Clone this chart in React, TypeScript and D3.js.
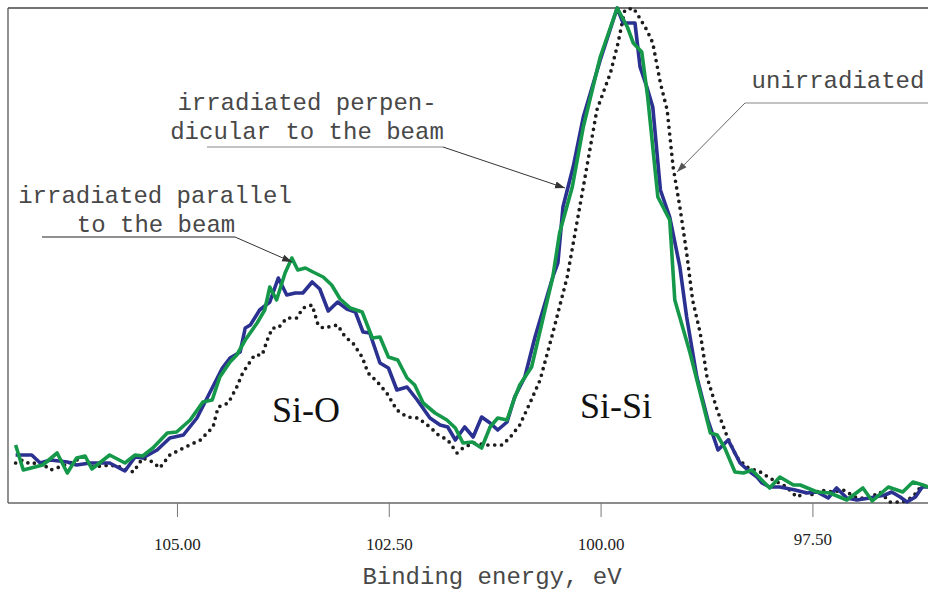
import React from "react";
import * as d3 from "d3";

// Binding energy axis ticks
const tickValues = [105, 102.5, 100, 97.5];
const tickLabels = ["105.00", "102.50", "100.00", "97.50"];

// Irradiated parallel to the beam (green)
const parallelE = [106.91, 106.82, 106.59, 106.42, 106.30, 106.19, 106.09, 106.01, 105.80, 105.62, 105.50, 105.41, 105.29, 105.12, 105.01, 104.85, 104.70, 104.59, 104.50, 104.38, 104.30, 104.20, 104.06, 103.97, 103.91, 103.83, 103.73, 103.65, 103.58, 103.49, 103.40, 103.28, 103.18, 103.08, 102.96, 102.82, 102.70, 102.61, 102.51, 102.40, 102.29, 102.20, 102.10, 101.96, 101.82, 101.72, 101.63, 101.52, 101.41, 101.31, 101.22, 101.11, 101.03, 100.96, 100.82, 100.69, 100.57, 100.49, 100.34, 100.21, 100.01, 99.81, 99.69, 99.62, 99.52, 99.45, 99.33, 99.19, 99.13, 98.95, 98.83, 98.71, 98.63, 98.54, 98.42, 98.32, 98.22, 98.01, 97.89, 97.73, 97.65, 97.45, 97.30, 97.10, 96.91, 96.80, 96.61, 96.44, 96.32, 96.20, 96.14];
const parallelI = [580, 330, 380, 500, 300, 450, 470, 340, 480, 400, 480, 470, 550, 700, 710, 830, 1010, 1030, 1260, 1410, 1480, 1630, 1800, 1930, 2160, 2030, 2300, 2450, 2330, 2350, 2310, 2260, 2180, 2040, 1950, 1910, 1650, 1660, 1460, 1430, 1250, 1180, 1000, 900, 830, 750, 600, 610, 550, 760, 850, 830, 1030, 1180, 1360, 1830, 2260, 2700, 3160, 3760, 4460, 4950, 4760, 4600, 4510, 4060, 3060, 2830, 2030, 1500, 1100, 700, 680, 550, 310, 300, 330, 150, 260, 180, 180, 110, 100, 30, 150, 20, 160, 110, 210, 180, 160];

// Irradiated perpendicular to the beam (blue)
const perpE = [106.91, 106.72, 106.62, 106.50, 106.30, 106.19, 106.03, 105.80, 105.62, 105.50, 105.41, 105.24, 105.09, 104.93, 104.77, 104.62, 104.47, 104.38, 104.26, 104.20, 104.14, 104.03, 103.91, 103.81, 103.71, 103.61, 103.52, 103.41, 103.32, 103.22, 103.11, 103.00, 102.90, 102.81, 102.73, 102.61, 102.51, 102.41, 102.29, 102.17, 102.02, 101.90, 101.81, 101.72, 101.61, 101.51, 101.41, 101.31, 101.22, 101.11, 101.02, 100.90, 100.78, 100.57, 100.51, 100.45, 100.33, 100.21, 100.01, 99.81, 99.74, 99.60, 99.54, 99.46, 99.39, 99.30, 99.19, 99.07, 98.99, 98.87, 98.74, 98.62, 98.50, 98.36, 98.27, 98.16, 98.10, 98.01, 97.89, 97.71, 97.57, 97.45, 97.32, 97.22, 97.10, 96.98, 96.83, 96.65, 96.57, 96.47, 96.39, 96.29, 96.21, 96.14];
const perpI = [480, 480, 400, 430, 410, 380, 400, 400, 320, 460, 450, 530, 650, 680, 850, 1100, 1350, 1450, 1510, 1750, 1780, 1930, 2010, 2250, 2080, 2100, 2100, 2210, 2140, 1920, 2010, 1940, 1910, 1710, 1700, 1400, 1350, 1130, 1160, 1030, 850, 780, 760, 630, 760, 660, 860, 800, 730, 810, 1060, 1260, 1660, 2260, 2400, 2960, 3360, 3860, 4430, 4950, 4800, 4800, 4360, 4160, 3960, 3130, 2860, 2360, 1860, 1260, 830, 530, 630, 400, 330, 260, 200, 160, 160, 130, 100, 110, 50, 150, 50, 30, 50, 80, 110, 60, 10, 60, 160, 160];

// Unirradiated (dotted)
const unirrE = [106.91, 106.83, 106.74, 106.62, 106.50, 106.39, 106.27, 106.11, 106.00, 105.80, 105.68, 105.52, 105.41, 105.29, 105.21, 105.09, 104.93, 104.73, 104.58, 104.52, 104.40, 104.30, 104.23, 104.09, 104.00, 103.94, 103.88, 103.81, 103.71, 103.59, 103.52, 103.41, 103.34, 103.28, 103.11, 103.02, 102.93, 102.82, 102.75, 102.64, 102.53, 102.41, 102.29, 102.16, 102.02, 101.92, 101.81, 101.70, 101.63, 101.51, 101.35, 101.17, 101.08, 100.96, 100.84, 100.72, 100.57, 100.40, 100.21, 100.05, 99.89, 99.80, 99.72, 99.62, 99.58, 99.46, 99.39, 99.30, 99.22, 99.15, 99.07, 98.99, 98.92, 98.83, 98.75, 98.63, 98.51, 98.40, 98.28, 98.12, 98.01, 97.81, 97.69, 97.57, 97.50, 97.42, 97.27, 97.14, 96.98, 96.83, 96.71, 96.59, 96.44, 96.32, 96.24, 96.14];
const unirrI = [400, 430, 390, 410, 330, 360, 400, 460, 360, 380, 360, 310, 450, 410, 350, 480, 550, 630, 760, 960, 1000, 1160, 1300, 1480, 1480, 1630, 1750, 1750, 1850, 1850, 1950, 1980, 1780, 1750, 1780, 1660, 1600, 1460, 1300, 1210, 1100, 930, 860, 850, 760, 680, 630, 500, 550, 600, 580, 580, 650, 780, 1000, 1230, 1700, 2260, 3160, 3930, 4300, 4600, 4930, 4950, 4900, 4730, 4600, 4200, 3930, 3360, 2960, 2500, 2030, 1700, 1260, 930, 660, 460, 360, 310, 250, 160, 60, 110, 80, 130, 110, 130, 50, 50, 110, 10, 10, 60, 150, 180];

const W = 928;
const H = 590;
const left = 8;
const top = 8;
const bottom = 503;

const x = d3.scaleLinear().domain([107, 96]).range([left, 940]);
const y = d3.scaleLinear().domain([0, 4950]).range([bottom, top]);

type Pt = [number, number];
const toPts = (E: number[], I: number[]): Pt[] => E.map((e, i) => [e, I[i]] as Pt);
const lineGen = d3
  .line<Pt>()
  .x((d) => x(d[0]))
  .y((d) => y(d[1]));

const mono = "'Courier New', 'Liberation Mono', monospace";
const serif = "'Times New Roman', 'Liberation Serif', serif";
const textGray = "#484848";

export default function App() {
  return (
    <div style={{ position: "absolute", left: 0, top: 0 }}>
      <svg width={W} height={H} viewBox={`0 0 ${W} ${H}`} style={{ display: "block", background: "#fff" }}>
        <defs>
          <clipPath id="plotClip">
            <rect x={left} y={top - 4} width={W - left} height={bottom - top + 6} />
          </clipPath>
          <marker id="arrowDark" markerUnits="userSpaceOnUse" markerWidth={11} markerHeight={8} refX={10} refY={4} orient="auto">
            <path d="M0,0.5 L10,4 L0,7.5 z" fill="#333" />
          </marker>
          <marker id="arrowGray" markerUnits="userSpaceOnUse" markerWidth={11} markerHeight={8} refX={10} refY={4} orient="auto">
            <path d="M0,0.5 L10,4 L0,7.5 z" fill="#555" />
          </marker>
        </defs>

        {/* frame */}
        <line x1={left} y1={top} x2={W} y2={top} stroke="#444" strokeWidth={1.3} />
        <line x1={left} y1={top} x2={left} y2={bottom} stroke="#555" strokeWidth={1.3} />
        <line x1={left} y1={bottom} x2={W} y2={bottom} stroke="#666" strokeWidth={1.3} />

        {/* ticks */}
        {tickValues.map((t, i) => (
          <g key={t}>
            <line x1={x(t)} x2={x(t)} y1={bottom} y2={bottom + 14} stroke="#777" strokeWidth={1} />
            <text
              x={x(t)}
              y={i === 3 ? 545 : 550}
              textAnchor="middle"
              fontFamily={serif}
              fontSize={17}
              fill="#222"
            >
              {tickLabels[i]}
            </text>
          </g>
        ))}
        <text x={492} y={584} textAnchor="middle" fontFamily={mono} fontSize={24} fill={textGray}>
          Binding energy, eV
        </text>

        {/* curves */}
        <g clipPath="url(#plotClip)" fill="none" strokeLinejoin="round">
          <path
            d={lineGen(toPts(unirrE, unirrI)) || ""}
            stroke="#1c1c1c"
            strokeWidth={3.7}
            strokeDasharray="0 6.8"
            strokeLinecap="round"
          />
          <path d={lineGen(toPts(perpE, perpI)) || ""} stroke="#2b3190" strokeWidth={3.6} />
          <path d={lineGen(toPts(parallelE, parallelI)) || ""} stroke="#15984a" strokeWidth={3.6} />
        </g>

        {/* peak labels */}
        <text x={272} y={422} fontFamily={serif} fontSize={36} fill="#111">
          Si-O
        </text>
        <text x={580} y={418} fontFamily={serif} fontSize={36} fill="#111">
          Si-Si
        </text>

        {/* annotation: parallel */}
        <text x={155} y={203} textAnchor="middle" fontFamily={mono} fontSize={24} fill={textGray}>
          irradiated parallel
        </text>
        <text x={156} y={232} textAnchor="middle" fontFamily={mono} fontSize={24} fill={textGray}>
          to the beam
        </text>
        <line x1={42} y1={237} x2={235} y2={237} stroke="#222" strokeWidth={1.2} />
        <line x1={235} y1={237} x2={292} y2={262} stroke="#333" strokeWidth={1} markerEnd="url(#arrowDark)" />

        {/* annotation: perpendicular */}
        <text x={307} y={110} textAnchor="middle" fontFamily={mono} fontSize={24} fill={textGray}>
          irradiated perpen-
        </text>
        <text x={307} y={139} textAnchor="middle" fontFamily={mono} fontSize={24} fill={textGray}>
          dicular to the beam
        </text>
        <line x1={207} y1={147} x2={443} y2={147} stroke="#888" strokeWidth={1.2} />
        <line x1={443} y1={147} x2={565} y2={188} stroke="#333" strokeWidth={1} markerEnd="url(#arrowDark)" />

        {/* annotation: unirradiated */}
        <text x={838} y={88} textAnchor="middle" fontFamily={mono} fontSize={24} fill={textGray}>
          unirradiated
        </text>
        <line x1={745} y1={103} x2={W} y2={103} stroke="#888" strokeWidth={1.2} />
        <line x1={745} y1={103} x2={677} y2={172} stroke="#666" strokeWidth={1} markerEnd="url(#arrowGray)" />
      </svg>
    </div>
  );
}
